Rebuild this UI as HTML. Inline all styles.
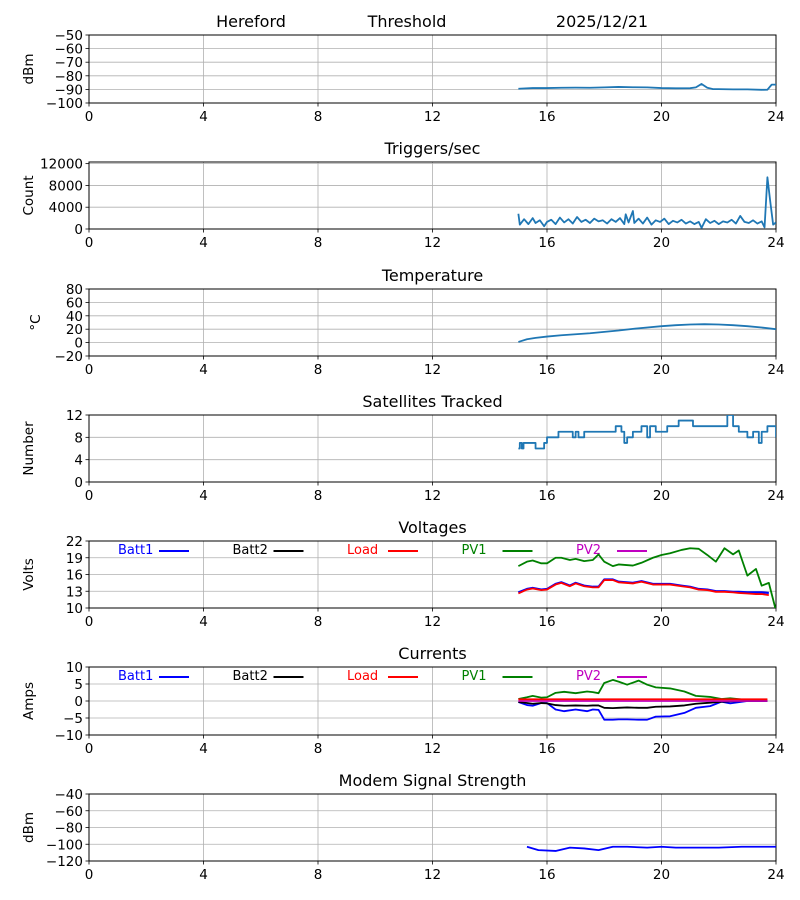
<!DOCTYPE html>
<html><head><meta charset="utf-8"><style>
body{margin:0;background:#fff}
svg{display:block;font-family:"DejaVu Sans","Liberation Sans",sans-serif}
</style></head><body>
<svg id="fig" width="800" height="900" viewBox="0 0 800 900"></svg>
<script>
// ---- data ----
const xTicks=[0,4,8,12,16,20,24];
const sigT=[15,15.5,16,16.5,17,17.5,18,18.5,19,19.5,20,20.5,21,21.2,21.4,21.6,21.8,22,22.5,23,23.5,23.7,23.85,24];
const sigV=[-89.5,-89,-89,-88.8,-88.7,-88.8,-88.5,-88.2,-88.4,-88.5,-89,-89.2,-89.1,-88.5,-86,-88.8,-89.8,-89.8,-90,-90,-90.3,-90.2,-86.5,-86.5];
const trigT=[15,15.05,15.2,15.35,15.5,15.6,15.75,15.9,16,16.15,16.3,16.45,16.6,16.75,16.9,17.05,17.2,17.35,17.5,17.65,17.8,17.95,18.1,18.25,18.4,18.55,18.7,18.75,18.85,19,19.05,19.2,19.35,19.5,19.65,19.8,19.95,20.1,20.25,20.4,20.55,20.7,20.85,21,21.15,21.3,21.4,21.55,21.7,21.85,22,22.15,22.3,22.45,22.6,22.75,22.9,23.05,23.2,23.35,23.5,23.6,23.7,23.8,23.9,24];
const trigV=[2800,800,1800,900,2000,1100,1600,500,1300,1700,900,2100,1200,1800,1000,2200,1300,1700,1100,1900,1400,1600,1000,1800,1300,2000,900,2700,1200,3300,1100,1900,1000,2100,800,1600,1300,1900,900,1500,1200,1700,1000,1400,900,1300,200,1800,1100,1500,900,1400,1200,1700,1000,2400,1300,1100,1600,1000,1400,300,9500,5000,800,1200];
const tempT=[15,15.3,15.6,16,16.5,17,17.5,18,18.5,19,19.5,20,20.5,21,21.5,22,22.5,23,23.5,24];
const tempV=[1,5,7,9,11,12.5,14,16,18,20.5,22.5,24.5,26,27,27.5,27,26,24.5,22.5,20];
const satT=[15,15.05,15.12,15.18,15.6,15.9,16,16.4,16.9,17.0,17.1,17.3,18.4,18.6,18.7,18.8,19.0,19.3,19.5,19.6,19.8,20.2,20.4,20.6,21.1,22.2,22.3,22.5,22.7,23.0,23.2,23.4,23.5,23.7,24];
const satV=[6,7,6,7,6,7,8,9,8,9,8,9,10,9,7,8,9,10,8,10,9,10,10,11,10,10,12,10,9,8,9,7,9,10,8];
const vT=[15,15.3,15.5,15.8,16,16.3,16.5,16.8,17,17.3,17.6,17.8,18,18.3,18.5,19,19.3,19.7,20,20.3,20.7,21,21.3,21.6,21.9,22.2,22.5,22.7,23,23.3,23.5,23.75,24];
const batt1V=[12.8,13.4,13.6,13.3,13.4,14.3,14.6,14,14.5,14,13.8,13.8,15.1,15.1,14.7,14.5,14.8,14.3,14.3,14.3,14,13.8,13.4,13.3,13,13,12.9,12.9,12.8,12.8,12.8,12.7,null];
const loadV=[12.6,13.3,13.5,13.2,13.3,14.2,14.5,13.9,14.4,13.9,13.7,13.7,15,15,14.6,14.4,14.7,14.2,14.2,14.2,13.9,13.7,13.3,13.2,12.9,12.9,12.8,12.7,12.6,12.5,12.5,12.3,null];
const pv1V=[17.5,18.3,18.5,18,18,19,19,18.6,18.8,18.4,18.6,19.6,18.3,17.5,17.8,17.6,18.1,19,19.5,19.8,20.4,20.7,20.6,19.5,18.3,20.7,19.6,20.3,15.8,17,14,14.5,9.5];
const cT=[15,15.3,15.5,15.8,16,16.3,16.6,17,17.4,17.6,17.8,18,18.3,18.5,18.8,19.2,19.5,19.8,20.3,20.8,21.2,21.7,22.1,22.4,23,23.7];
const cBatt1=[-0.3,-1.2,-1.4,-0.6,-0.6,-2.5,-3,-2.5,-3,-2.5,-2.6,-5.5,-5.5,-5.4,-5.4,-5.5,-5.5,-4.6,-4.5,-3.5,-2,-1.5,-0.2,-0.7,0,0];
const cBatt2=[-0.3,-0.6,-0.8,-0.6,-0.7,-1.2,-1.4,-1.3,-1.4,-1.3,-1.3,-2,-2.1,-2,-1.9,-2,-2,-1.7,-1.6,-1.3,-0.8,-0.5,-0.2,-0.1,0,0];
const cLoad=[0.5,0.5,0.5,0.5,0.5,0.5,0.5,0.5,0.5,0.5,0.5,0.5,0.5,0.5,0.5,0.5,0.5,0.5,0.5,0.5,0.5,0.5,0.5,0.5,0.5,0.5];
const cPV1=[0.6,1.1,1.5,1,1.1,2.4,2.7,2.3,2.8,2.6,2.3,5.3,6.2,5.7,4.8,6,4.8,4,3.7,2.8,1.5,1.2,0.6,0.8,0.3,0.2];
const cPV2=[0,0,0,0,0,0,0,0,0,0,0,0,0,0,0,0,0,0,0,0,0,0,0,0,0,0];
const modT=[15.3,15.7,16.3,16.8,17.3,17.8,18.3,18.8,19.5,20,20.5,22,22.8,24];
const modV=[-103,-107,-108,-104,-105,-107,-103,-103,-104,-103,-104,-104,-103,-103];

const NS='http://www.w3.org/2000/svg';
const svg=document.getElementById('fig');
const X0=89,X1=776;
const xs=t=>X0+(t/24)*(X1-X0);
function mk(tag,attrs,parent){const e=document.createElementNS(NS,tag);for(const k in attrs)e.setAttribute(k,attrs[k]);(parent||svg).appendChild(e);return e;}
function txt(s,attrs,parent){const e=mk('text',attrs,parent);e.textContent=s;return e;}

function panel(key,top,bot,ymin,ymax,yTicks,ylab,title){
  const g=mk('g',{});
  
  
  const ys=v=>bot-(v-ymin)/(ymax-ymin)*(bot-top);
  xTicks.forEach(t=>{
    const l=mk('line',{x1:xs(t),x2:xs(t),y1:top,y2:bot,stroke:'#b0b0b0','stroke-width':0.8},g);
    
    
    mk('line',{x1:xs(t),x2:xs(t),y1:bot,y2:bot+3.5,stroke:'#000','stroke-width':0.8},g);
    const tl=txt(String(t),{x:xs(t),y:bot+18,'font-size':13.5,'text-anchor':'middle'},g);
    
    
  });
  yTicks.forEach(v=>{
    const l=mk('line',{x1:X0,x2:X1,y1:ys(v),y2:ys(v),stroke:'#b0b0b0','stroke-width':0.8},g);
    
    
    mk('line',{x1:X0-3.5,x2:X0,y1:ys(v),y2:ys(v),stroke:'#000','stroke-width':0.8},g);
    const tl=txt(String(v).replace('-','\u2212'),{x:X0-6,y:ys(v)+5,'font-size':13.5,'text-anchor':'end'},g);
    
    
  });
  const yl=txt(ylab,{x:0,y:0,'font-size':13.5,'text-anchor':'middle',transform:`translate(${key==='temperature'?40:33},${(top+bot)/2}) rotate(-90)`},g);
  
  
  if(title){const tt=txt(title,{x:(X0+X1)/2,y:top-8,'font-size':16,'text-anchor':'middle'},g);
    
    }
  const clip=mk('clipPath',{id:'c'+key},g);mk('rect',{x:X0,y:top,width:X1-X0,height:bot-top},clip);
  const fr=mk('rect',{x:X0,y:top,width:X1-X0,height:bot-top,fill:'none',stroke:'#000','stroke-width':1},g);
  
  
  return {g,ys,clip:'url(#c'+key+')'};
}
function series(p,name,T,V,color,w,step){
  let d='';let started=false;let prev=null;
  T.forEach((t,i)=>{const v=V[i];if(v===null||v===undefined){started=false;return;}
    if(!started){d+=`M${xs(t)},${p.ys(v)}`;started=true;}
    else{if(step)d+=`L${xs(t)},${p.ys(prev)}`;d+=`L${xs(t)},${p.ys(v)}`;}
    prev=v;});
  const e=mk('path',{d,fill:'none',stroke:color,'stroke-width':w,'stroke-linejoin':'round','clip-path':p.clip},p.g);
  
  
  return e;
}
function legend(p,y){
  const items=[['Batt1','#0000ff'],['Batt2','#000'],['Load','#ff0000'],['PV1','#008000'],['PV2','#c000c0']];
  items.forEach((it,i)=>{
    const tx=118+i*114.5;
    const t=txt(it[0],{x:tx,y:y+5,'font-size':13,fill:it[1]},p.g);
    
    
    const l=mk('line',{x1:tx+41,x2:tx+71,y1:y+2,y2:y+2,stroke:it[1],'stroke-width':2},p.g);
    
    
  });
}
const C='#1f77b4';
// header titles
[['Hereford',251],['Threshold',407],['2025/12/21',602]].forEach(h=>{
  const t=txt(h[0],{x:h[1],y:27,'font-size':16,'text-anchor':'middle'});
  
  
});
let p=panel('signal',35,103,-100,-50,[-50,-60,-70,-80,-90,-100],'dBm',null);
series(p,'signal-line',sigT,sigV,C,1.8);
p=panel('triggers',162,229,0,12300,[0,4000,8000,12000],'Count','Triggers/sec');
series(p,'triggers-line',trigT,trigV,C,1.8);
p=panel('temperature',289,356,-20,80,[-20,0,20,40,60,80],'\u00b0C','Temperature');
series(p,'temperature-line',tempT,tempV,C,1.8);
p=panel('satellites',415,482,0,12,[0,4,8,12],'Number','Satellites Tracked');
series(p,'satellites-line',satT,satV,C,1.8,true);
p=panel('voltages',541,608,10,22,[10,13,16,19,22],'Volts','Voltages');
legend(p,549);
series(p,'voltage-pv1',vT,pv1V,'#008000',1.8);
series(p,'voltage-batt1',vT,batt1V,'#0000ff',2.2);
series(p,'voltage-load',vT,loadV,'#ff0000',1.8);
p=panel('currents',667,735,-10,10,[-10,-5,0,5,10],'Amps','Currents');
legend(p,675);
series(p,'current-pv1',cT,cPV1,'#008000',1.8);
series(p,'current-batt1',cT,cBatt1,'#0000ff',1.8);
series(p,'current-batt2',cT,cBatt2,'#000',1.8);
series(p,'current-pv2',cT,cPV2,'#c000c0',1.8);
series(p,'current-load',cT,cLoad,'#ff0000',1.8);
p=panel('modem',794,861,-120,-40,[-40,-60,-80,-100,-120],'dBm','Modem Signal Strength');
series(p,'modem-line',modT,modV,'#0000ff',1.8);
</script>
</body></html>
